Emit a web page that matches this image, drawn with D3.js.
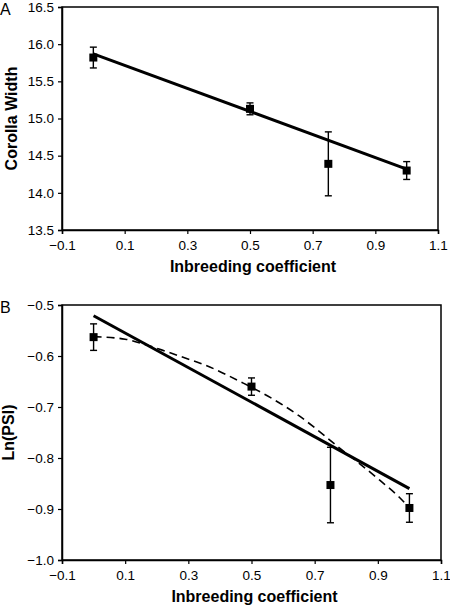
<!DOCTYPE html>
<html><head><meta charset="utf-8">
<script src="https://cdn.jsdelivr.net/npm/d3@7"></script>
<style>body{margin:0;background:#fff}svg{display:block}text{font-family:"Liberation Sans",Arial,sans-serif;fill:#000}</style>
</head><body>
<svg id="c" width="450" height="608"></svg>
<script>
// ---- data ----
const xTicks = [-0.1, 0.1, 0.3, 0.5, 0.7, 0.9, 1.1];
const inbreeding = [0, 0.5, 0.75, 1.0];

const corollaMean = [15.82, 15.13, 14.39, 14.30];
const corollaErr  = [0.14, 0.08, 0.43, 0.12];
const corollaFitX = [0, 1.0];
const corollaFitY = [15.87, 14.32];
const corollaTicks = [13.5, 14.0, 14.5, 15.0, 15.5, 16.0, 16.5];

const psiMean = [-0.563, -0.660, -0.853, -0.898];
const psiErr  = [0.026, 0.017, 0.074, 0.028];
const psiFitX = [0, 1.0];
const psiFitY = [-0.521, -0.860];
const psiCurveX = [0, 0.10, 0.16, 0.215, 0.29, 0.35, 0.47, 0.55, 0.65, 0.705, 0.77, 0.84, 0.905, 0.968, 1.0];
const psiCurveY = [-0.562, -0.567, -0.577, -0.588, -0.604, -0.617, -0.652, -0.678, -0.717, -0.743, -0.776, -0.810, -0.843, -0.877, -0.898];
const psiTicks = [-1.0, -0.9, -0.8, -0.7, -0.6, -0.5];

const svg = d3.select("#c");

function panel(o) {
  const g = svg.append("g");
  const x = d3.scaleLinear().domain([-0.1, 1.1]).range([o.left, o.right]);
  const y = d3.scaleLinear().domain(o.ydom).range([o.bottom, o.top]);

  // frame
  g.append("rect").attr("x", o.left).attr("y", o.top)
    .attr("width", o.right - o.left).attr("height", o.bottom - o.top)
    .attr("fill", "none").attr("stroke", "#000").attr("stroke-width", 1.5);

  // x axis
  const xa = g.append("g").attr("transform", `translate(0,${o.bottom})`)
    .call(d3.axisBottom(x).tickValues(xTicks).tickSize(4).tickPadding(6).tickFormat(d3.format(".1f")));
  xa.select(".domain").attr("stroke-width", 1.5);
  xa.selectAll(".tick line").attr("stroke-width", 1.2);
  xa.selectAll("text").attr("font-size", 13.5).attr("font-family", "Liberation Sans, Arial, sans-serif");

  // y axis
  const ya = g.append("g").attr("transform", `translate(${o.left},0)`)
    .call(d3.axisLeft(y).tickValues(o.yticks).tickSize(4).tickPadding(4).tickFormat(d3.format(".1f")));
  ya.select(".domain").attr("stroke-width", 1.5);
  ya.selectAll(".tick line").attr("stroke-width", 1.2);
  ya.selectAll("text").attr("font-size", 13.5).attr("font-family", "Liberation Sans, Arial, sans-serif");

  // titles
  g.append("text").attr("x", (o.left + o.right) / 2 + 3).attr("y", o.bottom + 42)
    .attr("text-anchor", "middle").attr("font-size", 16).attr("font-weight", "bold")
    .text("Inbreeding coefficient");
  g.append("text").attr("transform", `translate(${o.ytx},${(o.top + o.bottom) / 2}) rotate(-90)`)
    .attr("text-anchor", "middle").attr("font-size", 16).attr("font-weight", "bold")
    .text(o.ytitle);
  g.append("text").attr("x", 0).attr("y", o.top + 8).attr("font-size", 16).text(o.letter);

  // dashed curve
  if (o.curveX) {
    const pts = o.curveX.map((d, i) => [d, o.curveY[i]]);
    g.append("path").datum(pts)
      .attr("d", d3.line().x(d => x(d[0])).y(d => y(d[1])).curve(d3.curveMonotoneX))
      .attr("fill", "none").attr("stroke", "#000").attr("stroke-width", 1.6)
      .attr("stroke-dasharray", "8,5");
  }

  // regression line
  g.append("line")
    .attr("x1", x(o.fitX[0])).attr("y1", y(o.fitY[0]))
    .attr("x2", x(o.fitX[1])).attr("y2", y(o.fitY[1]))
    .attr("stroke", "#000").attr("stroke-width", 3);

  // error bars
  const data = inbreeding.map((d, i) => ({x: d, m: o.mean[i], e: o.err[i]}));
  const eb = g.append("g").attr("stroke", "#000").attr("stroke-width", 1.4);
  eb.selectAll(".v").data(data).join("line")
    .attr("x1", d => x(d.x)).attr("x2", d => x(d.x))
    .attr("y1", d => y(d.m - d.e)).attr("y2", d => y(d.m + d.e));
  eb.selectAll(".t").data(data).join("line")
    .attr("x1", d => x(d.x) - 3.5).attr("x2", d => x(d.x) + 3.5)
    .attr("y1", d => y(d.m + d.e)).attr("y2", d => y(d.m + d.e));
  eb.selectAll(".b").data(data).join("line")
    .attr("x1", d => x(d.x) - 3.5).attr("x2", d => x(d.x) + 3.5)
    .attr("y1", d => y(d.m - d.e)).attr("y2", d => y(d.m - d.e));

  // markers
  g.append("g").selectAll("rect").data(data).join("rect")
    .attr("x", d => x(d.x) - 4).attr("y", d => y(d.m) - 4)
    .attr("width", 8).attr("height", 8).attr("fill", "#000");
}

panel({left: 62, right: 438, top: 7, bottom: 230, ydom: [13.5, 16.5], yticks: corollaTicks,
  mean: corollaMean, err: corollaErr, fitX: corollaFitX, fitY: corollaFitY,
  ytitle: "Corolla Width", ytx: 17, letter: "A"});
panel({left: 62, right: 441, top: 305, bottom: 560, ydom: [-1.0, -0.5], yticks: psiTicks,
  mean: psiMean, err: psiErr, fitX: psiFitX, fitY: psiFitY, curveX: psiCurveX, curveY: psiCurveY,
  ytitle: "Ln(PSI)", ytx: 14, letter: "B"});
</script>
</body></html>
